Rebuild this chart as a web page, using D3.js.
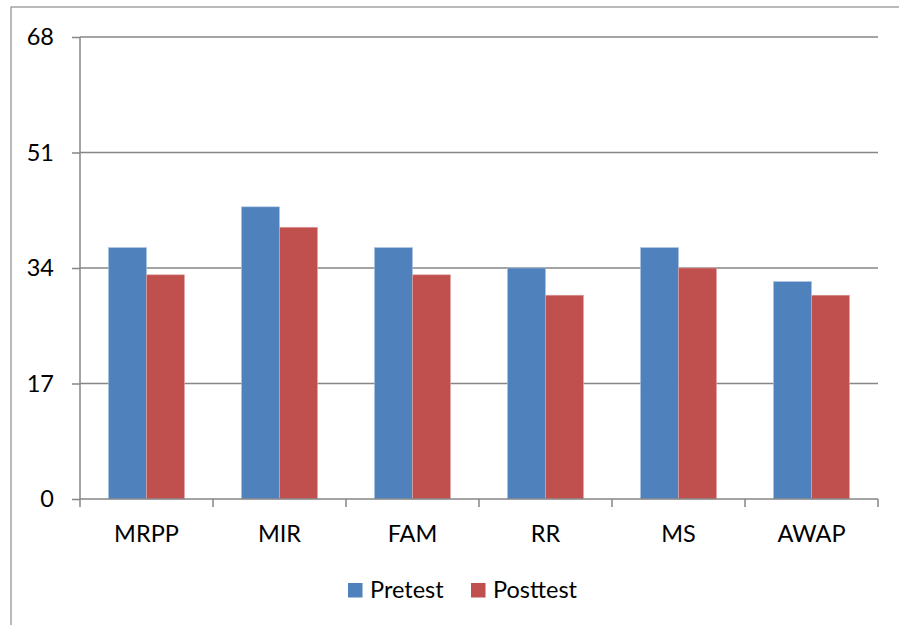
<!DOCTYPE html>
<html><head><meta charset="utf-8">
<script src="https://cdn.jsdelivr.net/npm/d3@7"></script>
<style>body{margin:0;background:#fff}svg{display:block}</style>
</head><body>
<svg id="c" width="899" height="625"></svg>
<script>
const categories = ["MRPP","MIR","FAM","RR","MS","AWAP"];
const seriesNames = ["Pretest","Posttest"];
const pretest = [37,43,37,34,37,32];
const posttest = [33,40,33,30,34,30];
const yTicks = [0,17,34,51,68];
const colors = ["#4F81BD","#C0504D"];

(function(){
const svg = d3.select("#c");
const font = "Lato, 'Open Sans', sans-serif";
const fs = 23.5;
const pL = 80, pR = 878, pT = 37, pB = 499;

// outer frame
svg.append("rect").attr("x",11).attr("y",7).attr("width",1000).attr("height",1000)
  .attr("fill","none").attr("stroke","#8c8c8c").attr("stroke-width",1.2);

const x = d3.scaleBand().domain(categories).range([pL,pR]).paddingInner(0).paddingOuter(0);
const y = d3.scaleLinear().domain([0,68]).range([pB,pT]);

// grid
svg.append("g").selectAll("line").data(yTicks.filter(d=>d>0)).join("line")
  .attr("x1",pL).attr("x2",pR).attr("y1",d=>y(d)).attr("y2",d=>y(d))
  .attr("stroke","#868686").attr("stroke-width",1.5);

// bars
const data = categories.map((c,i)=>({c, vals:[pretest[i],posttest[i]]}));
const bw = 38;
const g = svg.append("g");
data.forEach(d=>{
  d.vals.forEach((v,j)=>{
    const cx = x(d.c)+x.bandwidth()/2;
    g.append("rect")
      .attr("x", cx - bw + j*bw).attr("width", bw)
      .attr("y", y(v)).attr("height", y(0)-y(v))
      .attr("fill", colors[j]).attr("stroke", j===0?"#a9c1e0":"#e0a9a8").attr("stroke-width",0.6);
  });
});

// y axis
const yAxis = d3.axisLeft(y).tickValues(yTicks).tickSize(8).tickPadding(18);
const ya = svg.append("g").attr("transform",`translate(${pL},0)`).call(yAxis);
ya.select(".domain").attr("stroke","#868686").attr("stroke-width",1.5).attr("d",`M0,${pT}V${pB}`);
ya.selectAll(".tick line").attr("stroke","#868686").attr("stroke-width",1.5);
ya.selectAll(".tick text").attr("font-family",font).attr("font-size",fs).attr("fill","#000");

// x axis
const xAxis = d3.axisBottom(x).tickSize(0).tickPadding(26);
const xa = svg.append("g").attr("transform",`translate(0,${pB})`).call(xAxis);
xa.select(".domain").attr("stroke","#868686").attr("stroke-width",1.5).attr("d",`M${pL},0H${pR}`);
xa.selectAll(".tick text").attr("font-family",font).attr("font-size",fs).attr("fill","#000");
const bounds = [pL].concat(categories.map(c=>x(c)+x.bandwidth()));
svg.append("g").selectAll("line").data(bounds).join("line")
  .attr("x1",d=>d).attr("x2",d=>d).attr("y1",pB).attr("y2",pB+8)
  .attr("stroke","#868686").attr("stroke-width",1.5);

// legend
const leg = svg.append("g");
const legX = [348,471];
seriesNames.forEach((s,j)=>{
  leg.append("rect").attr("x",legX[j]).attr("y",583).attr("width",14.5).attr("height",14.5).attr("fill",colors[j]);
  leg.append("text").attr("x",legX[j]+22).attr("y",597.5).text(s)
    .attr("font-family",font).attr("font-size",fs).attr("fill","#000");
});
})();
</script>
</body></html>
